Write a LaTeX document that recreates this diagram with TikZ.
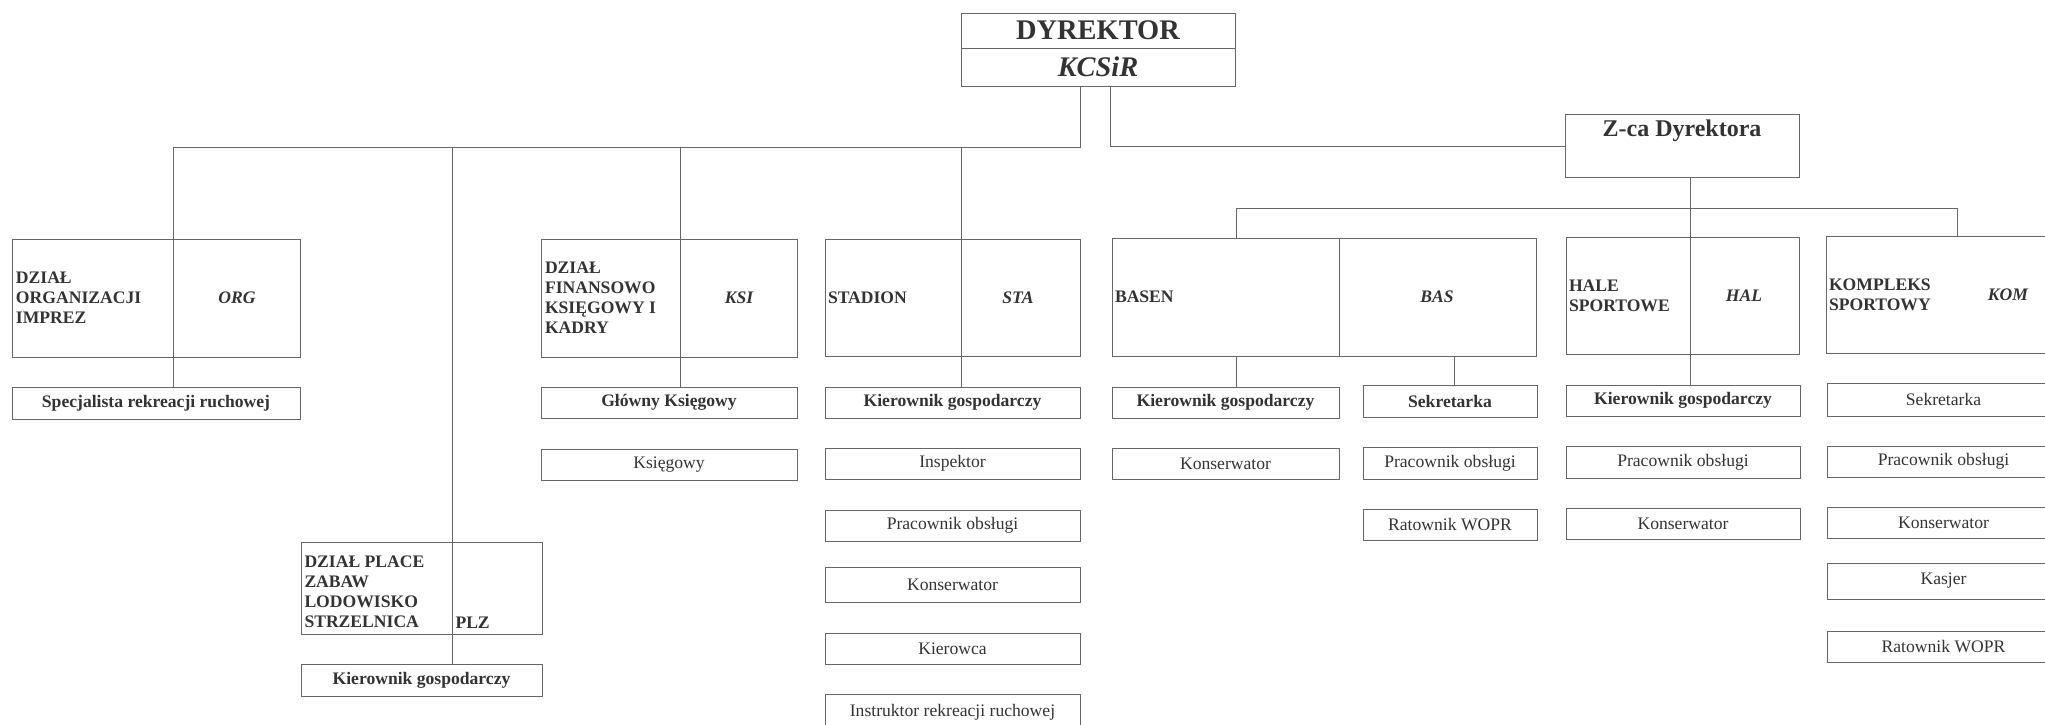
\documentclass[tikz,border=0pt]{standalone}
\usepackage{fontspec}
\setmainfont{Liberation Serif}
\usetikzlibrary{fit}
\definecolor{ink}{gray}{0.2}
\definecolor{rule}{gray}{0.4}
\newcommand{\smallType}[0]{\fontsize{8.8}{10}\selectfont}
\newcommand{\deputyType}[0]{\fontsize{12}{14}\selectfont\bfseries}
\newcommand{\chiefType}[0]{\fontsize{14.2}{16}\selectfont\bfseries}

\begin{document}
\begin{tikzpicture}[x=0.5pt, y=-0.5pt, line width=0.5pt]
  \tikzset{
    every node/.style={text=ink},
    every label/.style={inner sep=0pt, text=ink},
    frame/.style={draw=rule, inner sep=0pt},
    post/.style={frame, label={[font=\smallType]center:#1}},
    boss/.style={frame, label={[font=\smallType\bfseries]center:#1}},
    chief/.style={frame, label={[font=\chiefType]center:#1}},
    unitname/.style={anchor=west, align=left, inner sep=0pt, font=\smallType\bfseries},
    unitcode/.style={inner sep=0pt, font=\smallType\bfseries\itshape}
  }
  \useasboundingbox (0,0) rectangle (2045,724);
  \clip (0,0) rectangle (2045,724);

  % top
  \node[chief=DYREKTOR, fit={(961,13) (1235,48)}] (dyr) {};
  \node[chief=\itshape KCSiR, fit={(961,48) (1235,86)}] (kcsir) {};
  \node[frame, fit={(1565,114) (1799,177)}] (zca) {};
  \node[inner sep=0pt, font=\deputyType] (zcaText) at (1682,131) {Z-ca Dyrektora};

  % units
  \node[frame, fit={(12,239) (300,357)}] (org) {};
  \node[unitname] (orgName) at ([xshift=2pt]org.west) {DZIAŁ\\ORGANIZACJI\\IMPREZ};
  \node[unitcode] (orgCode) at (237,298) {ORG};
  \node[frame, fit={(541,239) (797,357)}] (ksi) {};
  \node[unitname] (ksiName) at ([xshift=2pt]ksi.west) {DZIAŁ\\FINANSOWO\\KSIĘGOWY I\\KADRY};
  \node[unitcode] (ksiCode) at (739,298) {KSI};
  \node[frame, fit={(825,239) (1080,356)}] (sta) {};
  \node[unitname] (staName) at ([xshift=1.5pt]sta.west) {STADION};
  \node[unitcode] (staCode) at (1018,298) {STA};
  \node[frame, fit={(1112,238) (1536,356)}] (bas) {};
  \node[unitname] (basName) at ([xshift=1.5pt]bas.west) {BASEN};
  \node[unitcode] (basCode) at (1437,297) {BAS};
  \node[frame, fit={(1566,237) (1799,354)}] (hal) {};
  \node[unitname] (halName) at ([xshift=1.5pt]hal.west) {HALE\\SPORTOWE};
  \node[unitcode] (halCode) at (1744,296) {HAL};
  \node[frame, fit={(1826,236) (2060,353)}] (kom) {};
  \node[unitname] (komName) at ([xshift=1.5pt]kom.west) {KOMPLEKS\\SPORTOWY};
  \node[unitcode] (komCode) at (2008,295) {KOM};
  \node[frame, fit={(301,542) (542,634)}] (plz) {};
  \node[unitname, anchor=north west] (plzName) at (304,555) {DZIAŁ PLACE\\ZABAW\\LODOWISKO\\STRZELNICA};
  \node[inner sep=0pt, anchor=base west, font=\smallType\bfseries] (plzCode) at (455,628) {PLZ};

  % posts
  \node[boss=Specjalista rekreacji ruchowej, fit={(12,387) (300,419)}] (orgSpec) {};
  \node[boss=Główny Księgowy, fit={(541,387) (797,418)}] (ksiGlowny) {};
  \node[post=Księgowy, fit={(541,449) (797,480)}] (ksiKs) {};
  \node[boss=Kierownik gospodarczy, fit={(301,664) (542,696)}] (plzKG) {};
  \node[boss=Kierownik gospodarczy, fit={(825,387) (1080,418)}] (staKG) {};
  \node[post=Inspektor, fit={(825,448) (1080,479)}] (staInsp) {};
  \node[post=Pracownik obsługi, fit={(825,510) (1080,541)}] (staPrac) {};
  \node[post=Konserwator, fit={(825,567) (1080,602)}] (staKons) {};
  \node[post=Kierowca, fit={(825,633) (1080,664)}] (staKier) {};
  \node[post=Instruktor rekreacji ruchowej, fit={(825,694) (1080,730)}] (staInstr) {};
  \node[boss=Kierownik gospodarczy, fit={(1112,387) (1339,418)}] (basKG) {};
  \node[post=Konserwator, fit={(1112,448) (1339,479)}] (basKons) {};
  \node[boss=Sekretarka, fit={(1363,385) (1537,417)}] (basSek) {};
  \node[post=Pracownik obsługi, fit={(1363,447) (1537,479)}] (basPrac) {};
  \node[post=Ratownik WOPR, fit={(1363,509) (1537,540)}] (basRat) {};
  \node[boss=Kierownik gospodarczy, fit={(1566,385) (1800,416)}] (halKG) {};
  \node[post=Pracownik obsługi, fit={(1566,446) (1800,478)}] (halPrac) {};
  \node[post=Konserwator, fit={(1566,508) (1800,539)}] (halKons) {};
  \node[post=Sekretarka, fit={(1827,383) (2060,416)}] (komSek) {};
  \node[post=Pracownik obsługi, fit={(1827,446) (2060,477)}] (komPrac) {};
  \node[post=Konserwator, fit={(1827,507) (2060,538)}] (komKons) {};
  \node[post=Kasjer, fit={(1827,563) (2060,599)}] (komKas) {};
  \node[post=Ratownik WOPR, fit={(1827,631) (2060,662)}] (komRat) {};

  % lines
  \coordinate (busL) at (1080,147);
  \coordinate (busR) at (1110,146);
  \coordinate (dropORG) at (173,147);
  \coordinate (dropPLZ) at (452,147);
  \coordinate (dropKSI) at (680,147);
  \coordinate (dropSTA) at (961,147);
  \coordinate (busZ) at (1690,208);
  \coordinate (dropBAS) at (1236,208);
  \coordinate (dropKOM) at (1957,208);
  \coordinate (dropSEK) at (1454,356);
  \coordinate (basDiv) at (1339,238);
  \draw[rule] (busL |- kcsir.south) -- (busL) -- (dropORG) -- (dropORG |- orgSpec.north);
  \draw[rule] (dropPLZ) -- (dropPLZ |- plzKG.north);
  \draw[rule] (dropKSI) -- (dropKSI |- ksiGlowny.north);
  \draw[rule] (dropSTA) -- (dropSTA |- staKG.north);
  \draw[rule] (busR |- kcsir.south) -- (busR) -- (busR -| zca.west);
  \draw[rule] (busZ |- zca.south) -- (busZ |- halKG.north);
  \draw[rule] (dropBAS |- bas.north) -- (dropBAS) -- (dropKOM) -- (dropKOM |- kom.north);
  \draw[rule] (dropBAS |- bas.south) -- (dropBAS |- basKG.north);
  \draw[rule] (dropSEK) -- (dropSEK |- basSek.north);
  \draw[rule] (basDiv) -- (basDiv |- bas.south);
\end{tikzpicture}
\end{document}
